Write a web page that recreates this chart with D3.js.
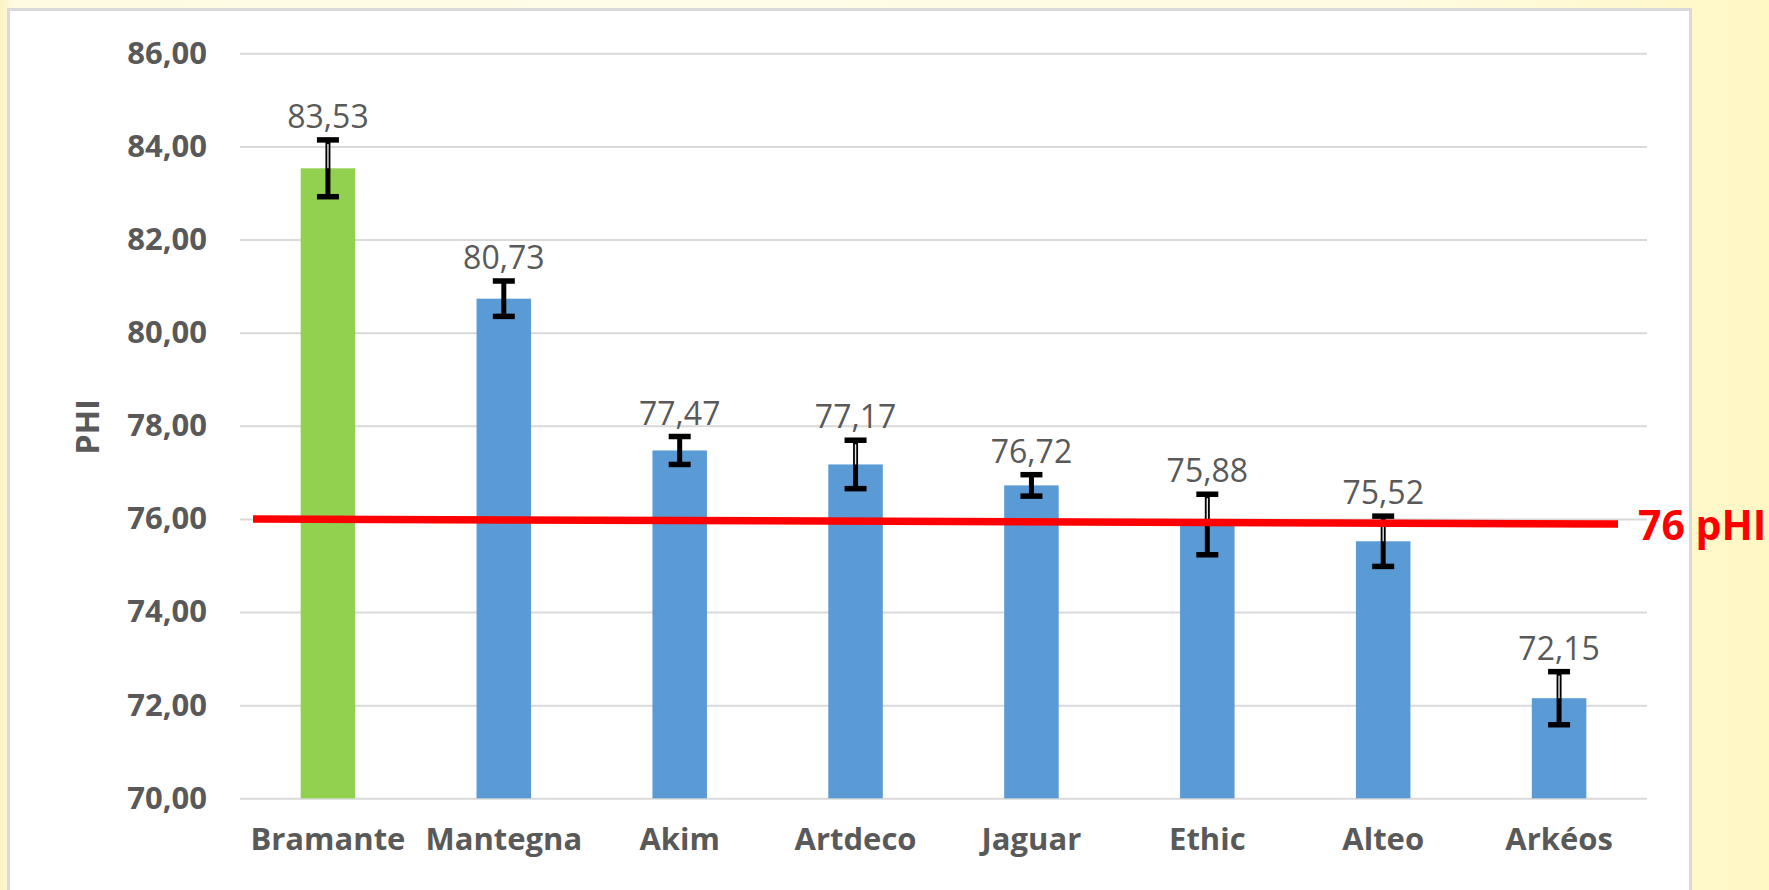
<!DOCTYPE html>
<html>
<head>
<meta charset="utf-8">
<script src="https://cdn.jsdelivr.net/npm/d3@7"></script>
<style>
  html, body { margin: 0; padding: 0; }
  body {
    width: 1769px; height: 890px; overflow: hidden;
    background: linear-gradient(to right, #fbf3c2 0px, #fffbe2 14px, #fffde8 40%, #fffbe0 80%, #fff7c4 100%);
  }
  svg { display: block; font-family: "Open Sans", "Liberation Sans", Arial, sans-serif; }
</style>
</head>
<body>
<svg id="chart" width="1769" height="890"></svg>
<script>
// ---- data ----
const categories = ["Bramante", "Mantegna", "Akim", "Artdeco", "Jaguar", "Ethic", "Alteo", "Arkéos"];
const values     = [83.53, 80.73, 77.47, 77.17, 76.72, 75.88, 75.52, 72.15];
const errors     = [0.61, 0.38, 0.30, 0.52, 0.23, 0.65, 0.54, 0.57];
const barColors  = ["#92d050", "#5b9bd5", "#5b9bd5", "#5b9bd5", "#5b9bd5", "#5b9bd5", "#5b9bd5", "#5b9bd5"];
const yTicks     = [70, 72, 74, 76, 78, 80, 82, 84, 86];
const yDomain    = [70, 86];
const axisTitle  = "PHI";
const thresholdLine  = [76.00, 75.89];   // hand-drawn reference line: start / end value
const thresholdLabel = "76 pHI";

// ---- layout ----
const svg = d3.select("#chart");
const plot = { left: 240, right: 1647, top: 53.3, bottom: 798.3 };

const locale = d3.formatLocale({ decimal: ",", thousands: " ", grouping: [3], currency: ["", " €"] });
const fmt = locale.format(".2f");

const x = d3.scaleBand().domain(categories).range([plot.left, plot.right]).paddingInner(0.69).paddingOuter(0.345);
const y = d3.scaleLinear().domain(yDomain).range([plot.bottom, plot.top]);

// panel
svg.append("rect")
  .attr("x", 8.5).attr("y", 9.5).attr("width", 1682).attr("height", 900)
  .attr("fill", "#ffffff").attr("stroke", "#d9d9d9").attr("stroke-width", 3);

// y axis with gridlines
const yAxis = d3.axisLeft(y).tickValues(yTicks).tickFormat(fmt)
  .tickSize(-(plot.right - plot.left)).tickPadding(33);
const gy = svg.append("g").attr("transform", `translate(${plot.left},0)`).call(yAxis);
gy.select(".domain").remove();
gy.selectAll(".tick line").attr("stroke", "#d9d9d9").attr("stroke-width", 2);
gy.selectAll(".tick text")
  .attr("fill", "#595959").attr("font-size", 31).attr("font-weight", "bold")
  .attr("font-family", "'Open Sans', 'Liberation Sans', Arial, sans-serif");

// x axis labels
const xAxis = d3.axisBottom(x).tickSize(0).tickPadding(30);
const gx = svg.append("g").attr("transform", `translate(0,${plot.bottom})`).call(xAxis);
gx.select(".domain").remove();
gx.selectAll(".tick text")
  .attr("fill", "#595959").attr("font-size", 31).attr("font-weight", "bold")
  .attr("font-family", "'Open Sans', 'Liberation Sans', Arial, sans-serif");

// axis title
svg.append("text")
  .attr("transform", `translate(99,${(plot.top + plot.bottom) / 2 + 1}) rotate(-90)`)
  .attr("text-anchor", "middle")
  .attr("fill", "#595959").attr("font-size", 32).attr("font-weight", "bold")
  .text(axisTitle);

// bars
const data = categories.map((c, i) => ({ c, v: values[i], e: errors[i], col: barColors[i] }));
svg.append("g").selectAll("rect").data(data).join("rect")
  .attr("x", d => x(d.c)).attr("width", x.bandwidth())
  .attr("y", d => y(d.v)).attr("height", d => y(yDomain[0]) - y(d.v))
  .attr("fill", d => d.col);

// error bars
const eb = svg.append("g").selectAll("g").data(data).join("g")
  .attr("transform", d => `translate(${x(d.c) + x.bandwidth() / 2},0)`);
eb.append("line")
  .attr("x1", 0).attr("x2", 0)
  .attr("y1", d => y(d.v + d.e)).attr("y2", d => y(d.v - d.e))
  .attr("stroke", "#000").attr("stroke-width", 5);
eb.filter(d => y(d.v) - y(d.v + d.e) > 20).append("line")
  .attr("x1", 0).attr("x2", 0)
  .attr("y1", d => y(d.v + d.e) + 4).attr("y2", d => y(d.v))
  .attr("stroke", "#e6e6e6").attr("stroke-width", 1.4);
eb.append("line")
  .attr("x1", -11).attr("x2", 11)
  .attr("y1", d => y(d.v + d.e)).attr("y2", d => y(d.v + d.e))
  .attr("stroke", "#000").attr("stroke-width", 5.5);
eb.append("line")
  .attr("x1", -11).attr("x2", 11)
  .attr("y1", d => y(d.v - d.e)).attr("y2", d => y(d.v - d.e))
  .attr("stroke", "#000").attr("stroke-width", 5.5);

// value labels
svg.append("g").selectAll("text").data(data).join("text")
  .attr("x", d => x(d.c) + x.bandwidth() / 2)
  .attr("y", d => y(d.v + d.e) - 12)
  .attr("text-anchor", "middle")
  .attr("fill", "#595959").attr("font-size", 32)
  .text(d => fmt(d.v));

// threshold reference line
const lx0 = plot.left + 13, lx1 = plot.right - 29;
svg.append("line")
  .attr("x1", lx0).attr("y1", y(thresholdLine[0]))
  .attr("x2", lx1).attr("y2", y(thresholdLine[1]))
  .attr("stroke", "#ff0000").attr("stroke-width", 7.5);
svg.append("text")
  .attr("x", lx1 + 20).attr("y", y(thresholdLine[1]) + 16)
  .attr("fill", "#ff0000").attr("font-size", 41).attr("font-weight", "bold")
  .text(thresholdLabel);
</script>
</body>
</html>
